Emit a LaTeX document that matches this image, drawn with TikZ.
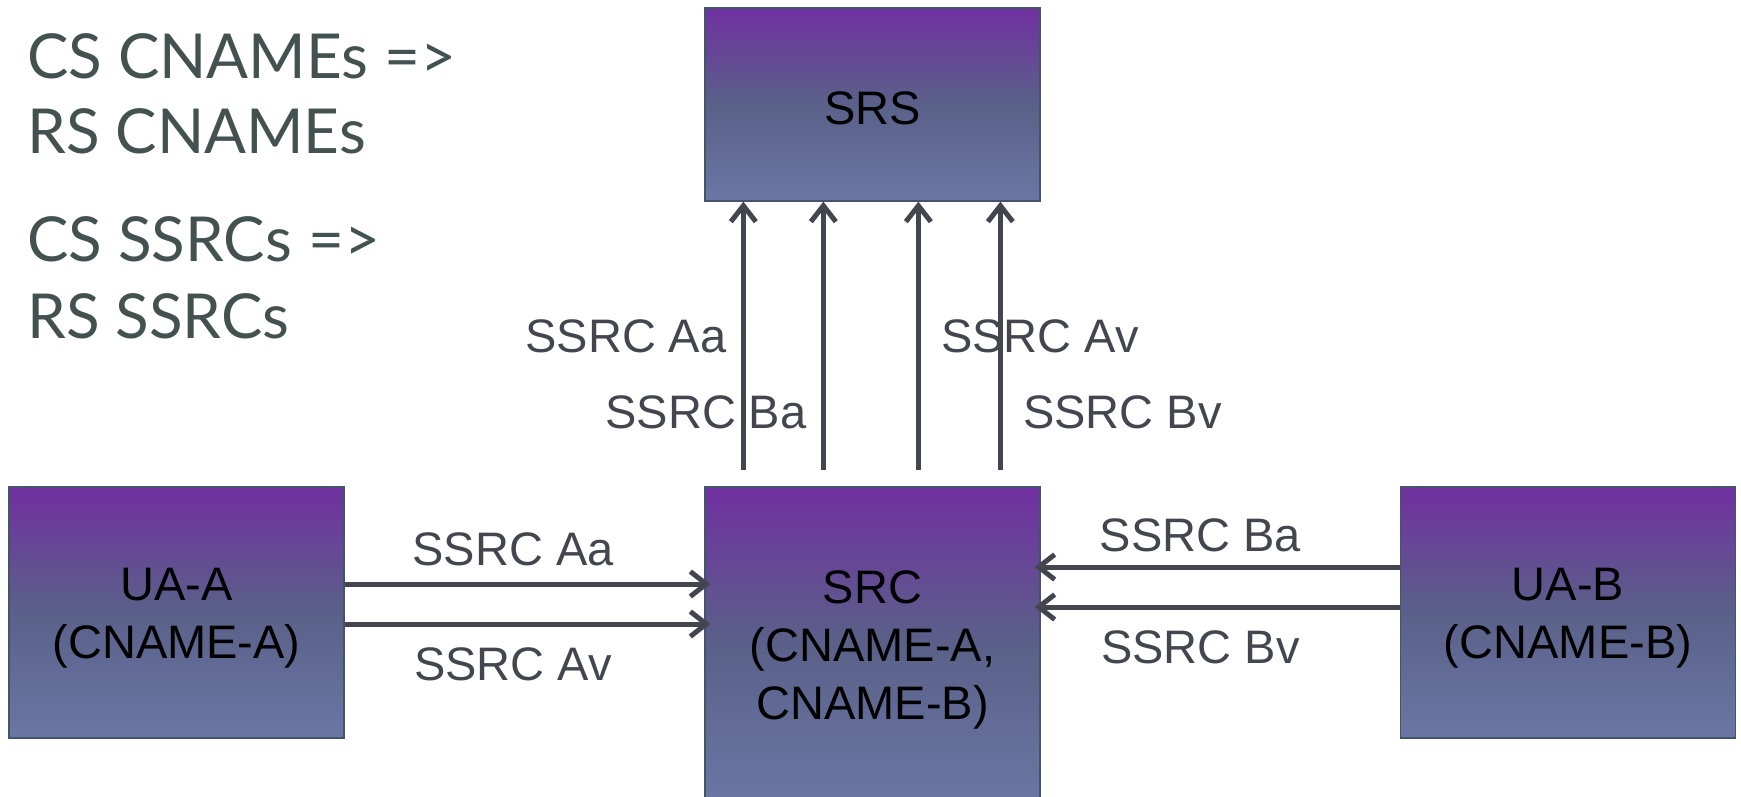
\documentclass[tikz,border=0pt]{standalone}
\usepackage{fontspec}
\setmainfont{Liberation Sans}
\newfontfamily\notefont{Lato}
\usepackage{tikz}
\usetikzlibrary{arrows.meta}

\definecolor{boxtop}{HTML}{7030A0}
\definecolor{boxmid}{HTML}{5A6189}
\definecolor{boxbot}{HTML}{6A77A4}
\definecolor{boxline}{HTML}{44546A}
\definecolor{flow}{HTML}{45454F}
\definecolor{notegrey}{HTML}{435151}
\newcommand{\boxstrut}{\rule{0pt}{44pt}}

\begin{document}
\begin{tikzpicture}[x=1pt, y=-1pt,
		box/.style={rectangle, draw=boxline, line width=1.3pt, top color=boxtop, bottom color=boxbot, middle color=boxmid, inner sep=0pt, minimum width=335pt, align=center, font=\fontsize{47}{58}\selectfont},
		flowline/.style={-{Straight Barb[length=16pt, width=25pt]}, line width=5pt, draw=flow},
		every edge/.append style={flowline},
		lbl/.style={text=flow, font=\fontsize{47}{56}\selectfont},
		note/.style={anchor=base west, text=notegrey, inner sep=0pt, font=\notefont\fontsize{62}{73}\selectfont}]
		\clip (0, 0) rectangle (1741, 796);
		
		\node[note] (cs1) at (27, 78) {CS CNAMEs =>};
		\node[note] (rs1) at (27, 153) {RS CNAMEs};
		\node[note] (cs2) at (27, 261) {CS SSRCs =>};
		\node[note] (rs2) at (27, 338) {RS SSRCs};
		
		\node[box, minimum height=193pt] (srs) at (872.5, 104.5) {\rule{0pt}{41pt}SRS};
		\node[box, minimum height=318pt] (src) at (872.5, 646) {\rule{0pt}{40pt}SRC\\(CNAME-A,\\CNAME-B)};
		\node[box, minimum height=251pt] (uaa) at (176.5, 612.5) {\boxstrut UA-A\\(CNAME-A)};
		\node[box, minimum height=251pt] (uab) at (1568, 612.5) {\boxstrut UA-B\\(CNAME-B)};
		
		\coordinate (up1) at ([shift={(39, -16)}]src.north west);
		\coordinate (up2) at ([shift={(119, -16)}]src.north west);
		\coordinate (up3) at ([shift={(214, -16)}]src.north west);
		\coordinate (up4) at ([shift={(296, -16)}]src.north west);
		\coordinate (aa) at ([yshift=28.5pt]uaa.east);
		\coordinate (av) at ([yshift=-11.5pt]uaa.east);
		\coordinate (ba) at ([yshift=45.5pt]uab.west);
		\coordinate (bv) at ([yshift=5.5pt]uab.west);
		
		\path (up1) edge node[lbl, left=11pt, pos=.5] {SSRC Aa} (up1 |- srs.south)
		(up2) edge node[lbl, left=11pt, pos=.215] {SSRC Ba} (up2 |- srs.south)
		(up3) edge node[lbl, right=17pt, pos=.5] {SSRC Av} (up3 |- srs.south)
		(up4) edge node[lbl, right=17pt, pos=.215] {SSRC Bv} (up4 |- srs.south)
		(aa) edge[shorten >=-6pt] node[lbl, above=12pt, pos=.468] {SSRC Aa} (aa -| src.west)
		(av) edge[shorten >=-6pt] node[lbl, below=18pt, pos=.468] {SSRC Av} (av -| src.west)
		(ba) edge[shorten >=-6pt] node[lbl, above=9pt, pos=.555] {SSRC Ba} (ba -| src.east)
		(bv) edge[shorten >=-6pt] node[lbl, below=18pt, pos=.555] {SSRC Bv} (bv -| src.east);
	\end{tikzpicture}
\end{document}
